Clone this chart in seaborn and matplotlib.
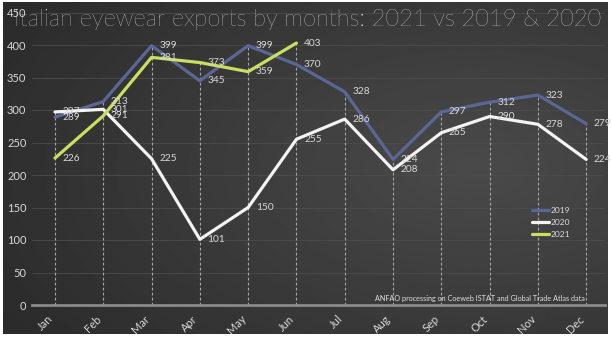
import numpy as np
import pandas as pd
import matplotlib
matplotlib.use("Agg")
import matplotlib.pyplot as plt
import seaborn as sns

months = ["Jan", "Feb", "Mar", "Apr", "May", "Jun", "Jul", "Aug", "Sep", "Oct", "Nov", "Dec"]
v2019 = [289, 313, 399, 345, 399, 370, 328, 224, 297, 312, 323, 279]
v2020 = [297, 301, 225, 101, 150, 255, 286, 208, 265, 290, 278, 224]
v2021 = [226, 291, 381, 373, 359, 403]
series_names = ["2019", "2020", "2021"]
colors = {"2019": "#5c6695", "2020": "#f4f2f2", "2021": "#c9df62"}

title = "Italian eyewear exports by months: 2021 vs 2019 & 2020"
source = "ANFAO processing on Coeweb ISTAT and Global Trade Atlas data"

rows = []
for name, vals in zip(series_names, [v2019, v2020, v2021]):
    for i, v in enumerate(vals):
        rows.append({"month": months[i], "x": i, "value": v, "year": name})
df = pd.DataFrame(rows)

sns.set_theme(style="dark")
plt.rcParams['font.family'] = ['Lato', 'DejaVu Sans']

W, H = 612, 337
fig = plt.figure(figsize=(W / 100, H / 100), dpi=100, facecolor="white")

# background panel with gradient
bg = fig.add_axes([3 / W, 3 / H, 605 / W, 332 / H])
bg.set_axis_off()
gx = np.linspace(0, 1, 300)
gy = np.linspace(0, 1, 200)
X, Y = np.meshgrid(gx, gy)
d = np.sqrt(((X - 0.78) / 0.9) ** 2 + ((Y - 0.5) / 0.9) ** 2)
val = 0.29 - 0.12 * np.clip(d, 0, 1)
bg.imshow(val, cmap="gray", vmin=0, vmax=1, aspect="auto", extent=[0, 1, 0, 1], origin="lower")
bg.set_xlim(0, 1)
bg.set_ylim(0, 1)

ax = fig.add_axes([32 / W, (H - 305) / H, (605 - 32) / W, (305 - 12.5) / H])
ax.set_facecolor("none")
ax.patch.set_alpha(0)

# gridlines
for yv in range(50, 451, 50):
    ax.axhline(yv, color="#4c4c4c", lw=0.6, zorder=0)

# drop lines
for i in range(12):
    vals = [v2019[i], v2020[i]] + ([v2021[i]] if i < len(v2021) else [])
    ax.plot([i, i], [0, max(vals)], color="#a8a8a8", lw=0.8, ls=(0, (2.5, 2)), zorder=1)

sns.lineplot(data=df, x="x", y="value", hue="year", palette=colors, lw=2.3,
             ax=ax, legend=True, zorder=3)

# data labels
for name, vals in zip(series_names, [v2019, v2020, v2021]):
    for i, v in enumerate(vals):
        ax.annotate(str(v), (i, v), xytext=(5.5, 0), textcoords="offset points",
                    ha="left", va="center", fontsize=7.3, color="#d8d8d8", zorder=4)

ax.set_xlim(-0.476, 11.39)
ax.set_ylim(0, 450)
ax.set_yticks(range(0, 451, 50))
ax.set_yticklabels([str(t) for t in range(0, 451, 50)], fontsize=8, color="#d8d8d8")
ax.set_xticks(range(12))
ax.set_xticklabels(months, rotation=45, fontsize=8, color="#d8d8d8", ha="right")
ax.tick_params(axis="x", length=0, pad=6)
ax.tick_params(axis="y", length=0, pad=4)
ax.set_xlabel("")
ax.set_ylabel("")
for s in ["top", "right", "left"]:
    ax.spines[s].set_visible(False)
ax.spines["bottom"].set_color("#8a8a8a")
ax.spines["bottom"].set_linewidth(2)
ax.grid(False)

leg = ax.legend(loc="upper left", bbox_to_anchor=(0.86, 0.36), frameon=False,
                fontsize=6, handlelength=2.0, labelspacing=0.6, handletextpad=0.2)
for t in leg.get_texts():
    t.set_color("#dddddd")

fig.text(480 / W, 1 - 298 / H, source, ha="center", va="center", fontsize=5.2, color="#e0e0e0")
fig.text(308 / W, 1 - 19 / H, title, ha="center", va="center", fontsize=17,
         color="white", fontweight="light")

fig.savefig("out.png", dpi=100, facecolor="white")
